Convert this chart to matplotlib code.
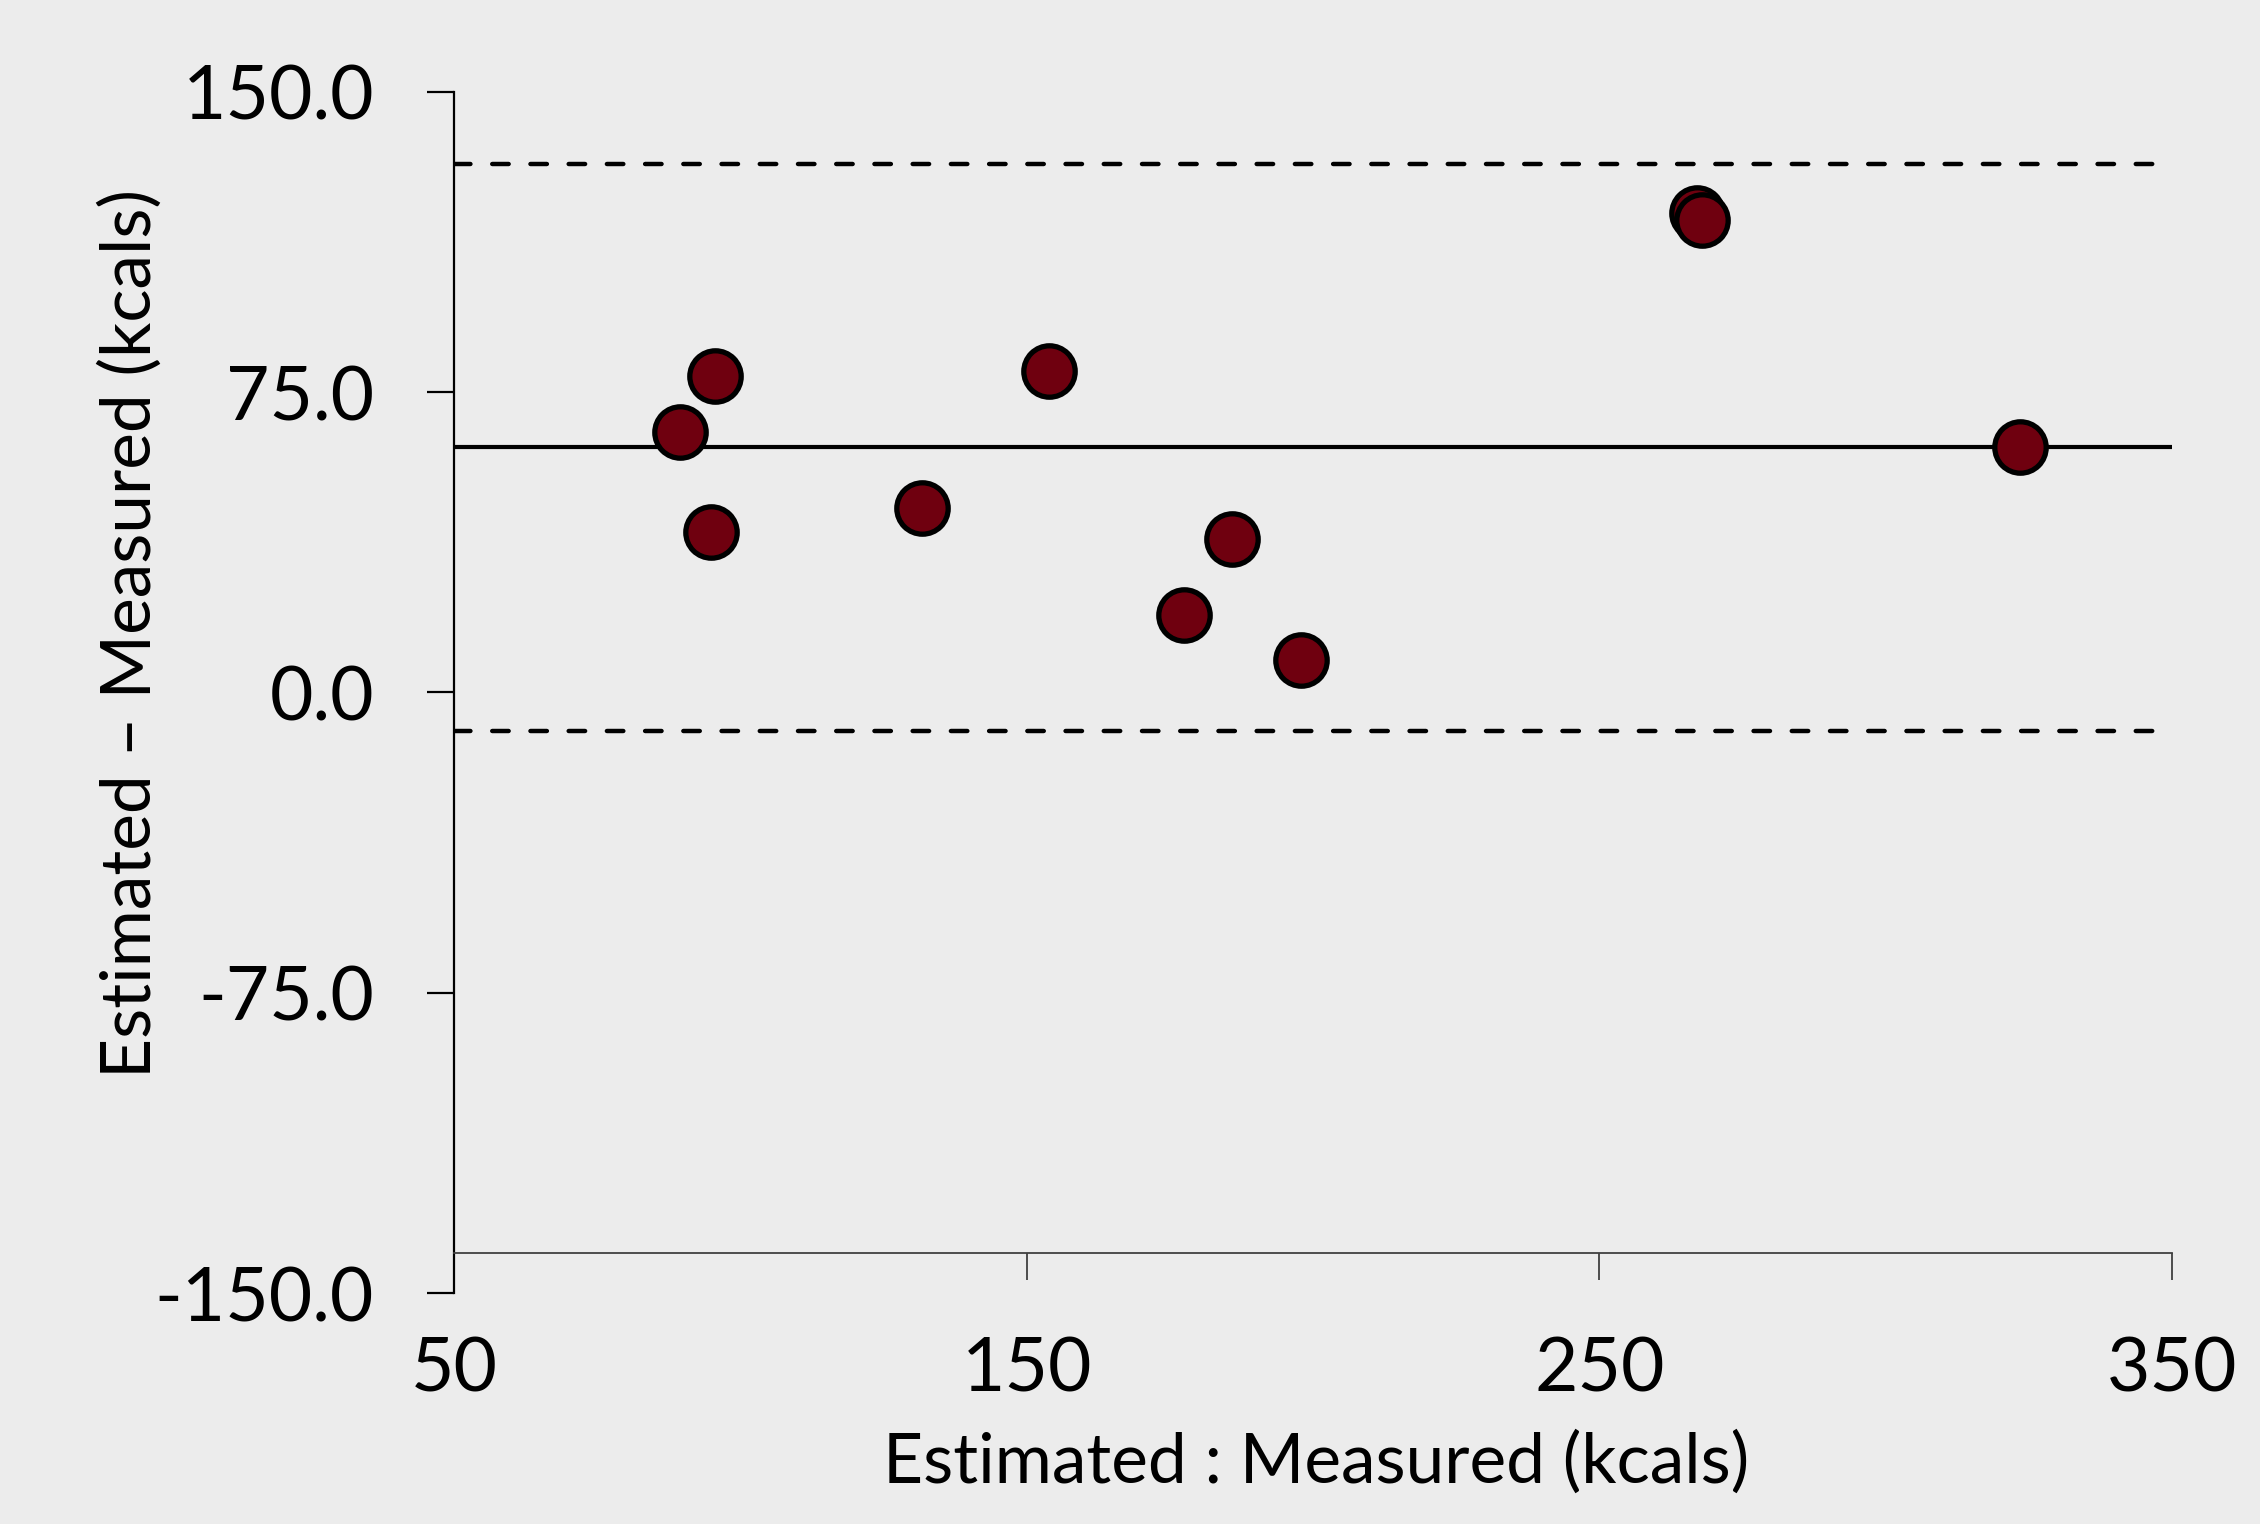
import matplotlib
matplotlib.use("Agg")
import matplotlib.pyplot as plt

# ---- data ----
x_vals = [89.5, 95.5, 94.9, 131.8, 153.9, 177.4, 185.9, 197.9, 267.1, 267.9, 323.4]
y_vals = [65.1, 79.1, 40.1, 46.1, 80.3, 19.2, 38.2, 8.1, 119.7, 118.0, 61.2]
mean_diff = 61.2
upper_loa = 132.0
lower_loa = -9.7
x_ticks = [50, 150, 250, 350]
x_ticklabels = ["50", "150", "250", "350"]
y_ticks = [-150, -75, 0, 75, 150]
y_ticklabels = ["-150.0", "-75.0", "0.0", "75.0", "150.0"]
x_label = "Estimated : Measured (kcals)"
y_label = "Estimated \u2013 Measured (kcals)"

BG = "#ECECEC"
FONT = ["Lato", "DejaVu Sans"]
plt.rcParams["font.family"] = FONT

W, H = 2260, 1524
fig = plt.figure(figsize=(W / 100, H / 100), dpi=100, facecolor=BG)
ax = fig.add_axes([454 / W, 1 - 1293 / H, (2172 - 454) / W, (1293 - 91.7) / H])
ax.set_facecolor(BG)
ax.set_xlim(50, 350)
ax.set_ylim(-150, 150)

# reference lines
ax.plot([50, 350], [mean_diff, mean_diff], color="black", lw=3.0, zorder=2,
        solid_capstyle="butt")
for yv in (upper_loa, lower_loa):
    ax.plot([50, 350], [yv, yv], color="black", lw=3.2, zorder=2,
            dashes=(3.7, 4.9), dash_capstyle="round")

# points
ax.plot(x_vals, y_vals, linestyle="none", marker="o", markersize=37,
        markerfacecolor="#6F000F", markeredgecolor="black", markeredgewidth=3.8,
        zorder=3, clip_on=False)

# spines
for s in ("top", "right"):
    ax.spines[s].set_visible(False)
ax.spines["left"].set_linewidth(1.6)
ax.spines["left"].set_color("black")
ax.spines["bottom"].set_position(("data", -140))
ax.spines["bottom"].set_linewidth(1.3)
ax.spines["bottom"].set_color("#404040")

ax.set_xticks(x_ticks)
ax.set_xticklabels(x_ticklabels)
ax.set_yticks(y_ticks)
ax.set_yticklabels(y_ticklabels)
ax.tick_params(axis="x", direction="out", length=19.5, width=1.3, color="#404040",
               pad=40, labelsize=54, labelcolor="black")
ax.tick_params(axis="y", direction="out", length=19.5, width=1.6, color="black",
               pad=38, labelsize=54, labelcolor="black")

fig.text(1316 / W, 1 - 1462 / H, x_label, ha="center", va="center", fontsize=50)
fig.text(130 / W, 1 - 634 / H, y_label, ha="center", va="center", rotation=90,
         fontsize=50)

fig.savefig("out.png", dpi=100, facecolor=BG)
